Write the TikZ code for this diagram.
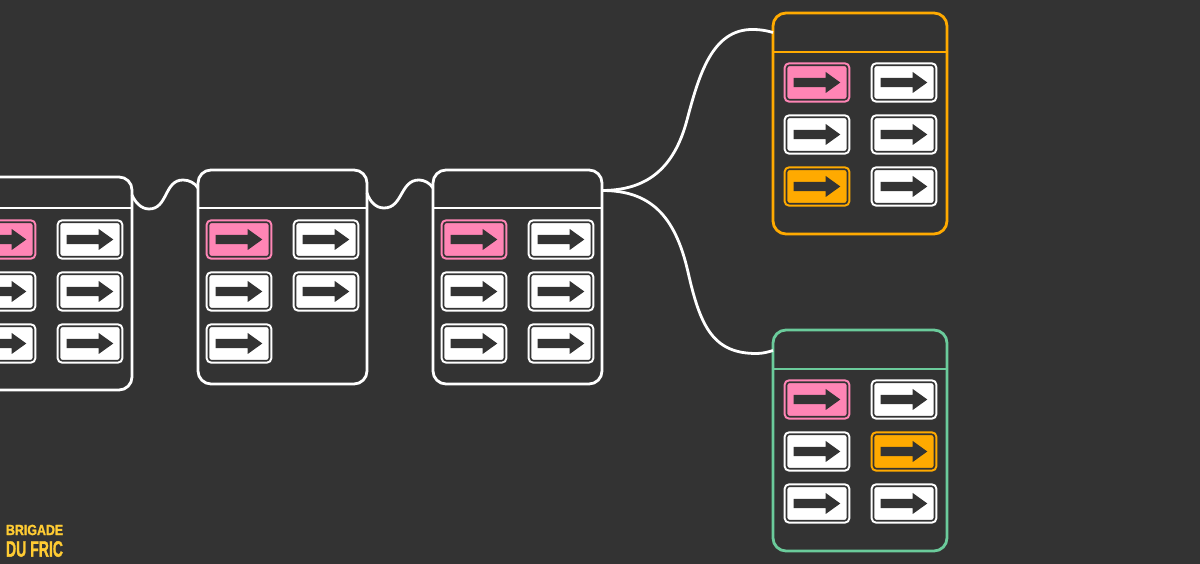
\documentclass[tikz,border=0pt]{standalone}
\usepackage{fontspec}
\newfontfamily\logofont{Liberation Sans}[BoldFeatures={FakeBold=1.6}]
\usepackage{xcolor}
\definecolor{slatebg}{HTML}{333333}
\definecolor{signpink}{HTML}{FF85B5}
\definecolor{signorange}{HTML}{FFAA00}
\definecolor{panelgreen}{HTML}{6BCB9B}
\definecolor{logoyellow}{HTML}{FFCC33}

\begin{document}
\begin{tikzpicture}[
    panel/.style={rectangle, rounded corners=0.13cm, draw=#1, line width=0.028cm,
                  minimum width=1.69cm, minimum height=2.14cm,
                  inner sep=0pt, outer sep=0pt},
    panel/.default=white,
    bigpanel/.style={panel=#1, minimum width=1.74cm, minimum height=2.21cm},
    hline/.style={draw=#1, line width=0.024cm},
    hline/.default=white,
    wire/.style={draw=white, line width=0.028cm},
    signcell/.style={rectangle, rounded corners=0.03cm, draw=slatebg,
                     line width=0.016cm, fill=#1,
                     preaction={draw=#1, line width=0.058cm},
                     minimum width=0.61cm, minimum height=0.345cm,
                     inner sep=0pt, outer sep=0pt,
                     path picture={\fill[slatebg, sharp corners]
                       (path picture bounding box.center)
                       ++(-0.233,0.047) -- ++(0.32,0) -- ++(0,0.058)
                       -- ++(0.146,-0.105) -- ++(-0.146,-0.105) -- ++(0,0.058)
                       -- ++(-0.32,0) -- cycle;}},
    signcell/.default=white,
    logotext/.style={text=logoyellow, anchor=west, inner sep=0pt, outer sep=0pt},
]
  % ---- background ----
  \fill[slatebg] (0,0) rectangle (12,-5.64);
  \clip (0,0) rectangle (12,-5.64);

  % ---- panels ----
  \node[panel, minimum height=2.13cm] (boxa) at (0.475,-2.835) {};
  \node[panel] (boxb) at (2.825,-2.77) {};
  \node[panel] (boxc) at (5.175,-2.77) {};
  \node[bigpanel=signorange]  (boxorange) at (8.60,-1.235) {};
  \node[bigpanel=panelgreen]  (boxgreen)  at (8.60,-4.405) {};

  % ---- header lines ----
  \draw[hline] ([yshift=-0.31cm]boxa.north west) -- ([yshift=-0.31cm]boxa.north east);
  \draw[hline] ([yshift=-0.38cm]boxb.north west) -- ([yshift=-0.38cm]boxb.north east);
  \draw[hline] ([yshift=-0.38cm]boxc.north west) -- ([yshift=-0.38cm]boxc.north east);
  \draw[hline=signorange] ([yshift=-0.39cm]boxorange.north west) -- ([yshift=-0.39cm]boxorange.north east);
  \draw[hline=panelgreen] ([yshift=-0.39cm]boxgreen.north west) -- ([yshift=-0.39cm]boxgreen.north east);

  % ---- first panel ----
  \node[signcell=signpink] (a1) at (0.03,-2.395) {};
  \node[signcell] (a2) at (0.90,-2.395) {};
  \node[signcell] (a3) at (0.03,-2.915) {};
  \node[signcell] (a4) at (0.90,-2.915) {};
  \node[signcell] (a5) at (0.03,-3.435) {};
  \node[signcell] (a6) at (0.90,-3.435) {};

  % ---- second panel ----
  \node[signcell=signpink] (b1) at (2.39,-2.395) {};
  \node[signcell] (b2) at (3.26,-2.395) {};
  \node[signcell] (b3) at (2.39,-2.915) {};
  \node[signcell] (b4) at (3.26,-2.915) {};
  \node[signcell] (b5) at (2.39,-3.435) {};

  % ---- third panel ----
  \node[signcell=signpink] (c1) at (4.74,-2.395) {};
  \node[signcell] (c2) at (5.61,-2.395) {};
  \node[signcell] (c3) at (4.74,-2.915) {};
  \node[signcell] (c4) at (5.61,-2.915) {};
  \node[signcell] (c5) at (4.74,-3.435) {};
  \node[signcell] (c6) at (5.61,-3.435) {};

  % ---- orange panel ----
  \node[signcell=signpink]   (o1) at (8.17,-0.825) {};
  \node[signcell]            (o2) at (9.04,-0.825) {};
  \node[signcell]            (o3) at (8.17,-1.345) {};
  \node[signcell]            (o4) at (9.04,-1.345) {};
  \node[signcell=signorange] (o5) at (8.17,-1.865) {};
  \node[signcell]            (o6) at (9.04,-1.865) {};

  % ---- green panel ----
  \node[signcell=signpink]   (g1) at (8.17,-3.995) {};
  \node[signcell]            (g2) at (9.04,-3.995) {};
  \node[signcell]            (g3) at (8.17,-4.515) {};
  \node[signcell=signorange] (g4) at (9.04,-4.515) {};
  \node[signcell]            (g5) at (8.17,-5.035) {};
  \node[signcell]            (g6) at (9.04,-5.035) {};

  % ---- connectors ----
  \draw[wire] ([yshift=0.885cm]boxa.east)
    .. controls (1.35,-2.02) and (1.41,-2.09) .. (1.49,-2.09)
    .. controls (1.68,-2.09) and (1.64,-1.80) .. (1.83,-1.80)
    .. controls (1.89,-1.80) and (1.95,-1.83) .. ([yshift=0.89cm]boxb.west);
  \draw[wire] ([yshift=0.84cm]boxb.east)
    .. controls (3.70,-2.02) and (3.76,-2.08) .. (3.84,-2.08)
    .. controls (4.03,-2.08) and (4.00,-1.80) .. (4.19,-1.80)
    .. controls (4.24,-1.80) and (4.30,-1.83) .. ([yshift=0.89cm]boxc.west);
  \draw[wire] ([yshift=0.865cm]boxc.east)
    .. controls (6.50,-1.905) and (6.75,-1.65) .. (6.87,-1.20)
    .. controls (6.99,-0.75) and (7.12,-0.29) .. (7.53,-0.295)
    .. controls (7.60,-0.295) and (7.66,-0.305) .. ([yshift=0.91cm]boxorange.west);
  \draw[wire] ([yshift=0.865cm]boxc.east)
    .. controls (6.50,-1.905) and (6.75,-2.15) .. (6.88,-2.72)
    .. controls (7.00,-3.246) and (7.12,-3.54) .. (7.57,-3.535)
    .. controls (7.63,-3.535) and (7.68,-3.52) .. ([yshift=0.90cm]boxgreen.west);

  % ---- logo ----
  \node[logotext, font=\fontsize{4.2}{5}\logofont\bfseries, xscale=0.84] (logotop) at (0.06,-5.30) {BRIGADE};
  \node[logotext, font=\fontsize{6.35}{7}\logofont\bfseries, xscale=0.63] (logobottom) at (0.06,-5.49) {DU FRIC};
\end{tikzpicture}
\end{document}
